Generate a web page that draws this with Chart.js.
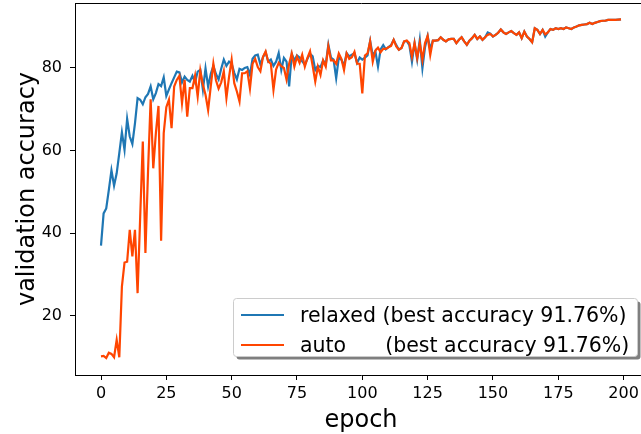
<!DOCTYPE html>
<html>
<head>
<meta charset="utf-8">
<script src="https://cdn.jsdelivr.net/npm/chart.js@4.4.0/dist/chart.umd.min.js"></script>
<style>
  html, body { margin: 0; padding: 0; background: #fff; overflow: hidden; }
  #wrap { width: 650px; height: 434px; }
</style>
</head>
<body>
<div id="wrap"><canvas id="chart" width="650" height="434"></canvas></div>
<script>
// validation accuracy per epoch
const relaxed = [
  37, 44.8, 46, 50.5, 55.2, 51.5, 54.5, 59.4, 64.4, 60.2,
  67.7, 63.4, 61.6, 66.6, 72.7, 72.3, 71.2, 72.9, 73.7, 75.5,
  72.4, 73.9, 76.1, 75.6, 77.7, 73.2, 74.8, 76.3, 77.7, 79.1,
  78.9, 76.5, 77.9, 77.1, 76.7, 78.1, 76.5, 79.1, 79.5, 74.7,
  79.9, 75.5, 78.5, 80.5, 78.5, 77.2, 79.8, 82, 80.5, 81.5,
  81, 78.8, 77.2, 79.8, 79.5, 80, 80.2, 78.3, 82.2, 83,
  83.2, 80.8, 82.6, 83.8, 81.5, 82, 80.5, 81.5, 83.6, 79.5,
  82.4, 81.5, 75.5, 83.4, 81.8, 83, 82.5, 81.6, 80.8, 82.2,
  83.4, 82.8, 79.5, 80.5, 80.2, 81.8, 80.8, 85.6, 82.5, 82,
  77.5, 82.5, 82, 80.5, 83.6, 82.8, 83.2, 83.5, 81.2, 82.5,
  82, 82.5, 83, 86.5, 83, 84, 80.3, 84.5, 85.5, 84.5,
  85, 85.5, 86.8, 85.5, 84.4, 84.8, 86.4, 86.5, 85.5, 81.5,
  86, 82, 86.8, 79.9, 85, 87.7, 84.5, 86.6, 86.6, 86.7,
  87.4, 86.8, 86.4, 86.9, 87, 87, 86, 86.8, 87.4, 86.4,
  85.6, 86.6, 87.2, 88, 87, 87.6, 86.8, 87.4, 88.6, 88.3,
  87.6, 88, 88.5, 89.3, 88.6, 88.2, 88.6, 88.9, 88.4, 88,
  88.6, 87.2, 88.8, 87.6, 87, 86.2, 89.6, 89.2, 88.2, 89.2,
  87.6, 88.6, 89.4, 89.2, 89.6, 89.4, 89.6, 89.4, 89.8, 89.6,
  89.4, 89.8, 90, 90.3, 90.4, 90.5, 90.6, 90.9, 90.6, 90.9,
  91.1, 91.3, 91.4, 91.4, 91.6, 91.6, 91.6, 91.6, 91.7, 91.76
];

const auto = [
  10.2, 10.3, 9.8, 11.1, 10.8, 10, 14.2, 10, 27.1, 32.9,
  33.1, 40.8, 34.4, 40.8, 25.5, 44, 62.2, 35.2, 55, 72.4,
  55.7, 64.2, 70.8, 38.2, 64.2, 70.5, 72.3, 65.4, 75.5, 77.1,
  78.1, 71.5, 77.1, 68.2, 75.1, 75.1, 78.1, 73.1, 79.4, 75.9,
  73.5, 69.8, 75.5, 81, 77, 75, 76.5, 79.2, 72.7, 77.8,
  82, 76.3, 74.3, 71.9, 78.7, 78.7, 79.2, 75, 81, 82.2,
  80.2, 79.2, 82.7, 84, 81.5, 81, 74.7, 79.6, 81.2, 80.4,
  80, 77.2, 81, 83.5, 80.3, 82.7, 81.2, 83.2, 80.3, 82.4,
  84, 80.5, 76.7, 80.3, 78.3, 81.8, 80.3, 85.2, 81.8, 81.8,
  81, 83.5, 82.2, 79.5, 83.5, 82.2, 82.6, 83.9, 81, 81,
  73.8, 83, 83.5, 86.4, 81.5, 84.2, 84.9, 83.8, 84.6, 84.6,
  85, 85.3, 86.8, 85.2, 84.4, 84.8, 86.4, 86.6, 86, 82.7,
  86, 82.4, 86, 81.9, 86, 87.7, 83.1, 86.6, 86.6, 86.7,
  87.4, 86.8, 86.4, 86.9, 87, 87, 86, 86.8, 87.4, 86.4,
  85.6, 86.6, 87.2, 88, 87, 87.6, 86.8, 87.4, 88, 88.2,
  87.6, 88, 88.5, 89.3, 88.6, 88.2, 88.6, 88.9, 88.4, 88,
  88.6, 87.2, 88.8, 87.6, 87, 86.2, 89.6, 89.2, 88.2, 89.2,
  88.1, 88.6, 89.4, 89.2, 89.6, 89.4, 89.6, 89.4, 89.8, 89.6,
  89.4, 89.8, 90, 90.3, 90.4, 90.5, 90.6, 90.9, 90.6, 90.9,
  91.1, 91.3, 91.4, 91.4, 91.6, 91.6, 91.6, 91.6, 91.7, 91.76
];

const seriesLabels = ["relaxed (best accuracy 91.76%)", "auto      (best accuracy 91.76%)"];
const xTicks = [0, 25, 50, 75, 100, 125, 150, 175, 200];
const yTicks = [20, 40, 60, 80];

const FONT = "'DejaVu Sans', sans-serif";

// top and right spines
const framePlugin = {
  id: "frame",
  afterDraw(chart) {
    const { ctx, chartArea: a } = chart;
    ctx.save();
    ctx.strokeStyle = "#000";
    ctx.lineWidth = 1;
    ctx.beginPath();
    ctx.moveTo(Math.round(a.left) + 0.5, Math.round(a.top) + 0.5);
    ctx.lineTo(Math.round(a.right) + 0.5, Math.round(a.top) + 0.5);
    ctx.lineTo(Math.round(a.right) + 0.5, Math.round(a.bottom) + 0.5);
    ctx.stroke();
    ctx.restore();
  }
};

function roundRect(ctx, x, y, w, h, r) {
  ctx.beginPath();
  ctx.moveTo(x + r, y);
  ctx.lineTo(x + w - r, y);
  ctx.arcTo(x + w, y, x + w, y + r, r);
  ctx.lineTo(x + w, y + h - r);
  ctx.arcTo(x + w, y + h, x + w - r, y + h, r);
  ctx.lineTo(x + r, y + h);
  ctx.arcTo(x, y + h, x, y + h - r, r);
  ctx.lineTo(x, y + r);
  ctx.arcTo(x, y, x + r, y, r);
  ctx.closePath();
}

// matplotlib-like legend with shadow, bottom right
const legendPlugin = {
  id: "mplLegend",
  afterDraw(chart) {
    const ctx = chart.ctx;
    const bx = 233.5, by = 298.5, bw = 404, bh = 58;
    ctx.save();
    ctx.fillStyle = "rgba(0,0,0,0.5)";
    roundRect(ctx, bx + 3, by + 3, bw, bh, 3);
    ctx.fill();
    ctx.fillStyle = "#fff";
    ctx.strokeStyle = "#cccccc";
    ctx.lineWidth = 1;
    roundRect(ctx, bx, by, bw, bh, 3);
    ctx.fill();
    ctx.stroke();
    ctx.font = "20.5px " + FONT;
    ctx.textBaseline = "middle";
    ctx.textAlign = "left";
    chart.data.datasets.forEach((ds, i) => {
      const y = 315 + i * 30;
      ctx.strokeStyle = ds.borderColor;
      ctx.lineWidth = 2;
      ctx.beginPath();
      ctx.moveTo(241, y);
      ctx.lineTo(284, y);
      ctx.stroke();
      ctx.fillStyle = "#000";
      ctx.fillText(ds.label, 300, y + 1.5);
    });
    ctx.restore();
  }
};

const tickStyle = { size: 16, family: FONT };

new Chart(document.getElementById("chart"), {
  type: "line",
  data: {
    datasets: [
      {
        label: seriesLabels[0],
        data: relaxed.map((v, i) => ({ x: i, y: v })),
        borderColor: "#1f77b4",
        borderWidth: 2.2,
        pointRadius: 0,
        order: 2
      },
      {
        label: seriesLabels[1],
        data: auto.map((v, i) => ({ x: i, y: v })),
        borderColor: "#ff4500",
        borderWidth: 2.2,
        pointRadius: 0,
        order: 1
      }
    ]
  },
  options: {
    responsive: false,
    animation: false,
    layout: { padding: { left: 0, top: 3, right: 3, bottom: 0 } },
    plugins: { legend: { display: false }, tooltip: { enabled: false } },
    scales: {
      x: {
        type: "linear",
        min: -9.95,
        max: 208.95,
        afterBuildTicks: s => { s.ticks = xTicks.map(v => ({ value: v })); },
        afterFit: s => { s.height = 59; s.paddingLeft = 0; s.paddingRight = 0; },
        ticks: { font: tickStyle, color: "#000", padding: 4, maxRotation: 0, autoSkip: false },
        grid: { drawOnChartArea: false, drawTicks: true, tickLength: 5, color: "#000" },
        border: { display: true, color: "#000", width: 1 },
        title: { display: true, text: "epoch", font: { size: 24, family: FONT }, color: "#000", padding: { top: 0, bottom: -1 } }
      },
      y: {
        min: 5.7,
        max: 95.7,
        afterBuildTicks: s => { s.ticks = yTicks.map(v => ({ value: v })); },
        afterFit: s => { s.width = 75; s.paddingTop = 0; s.paddingBottom = 0; },
        ticks: { font: tickStyle, color: "#000", padding: 8 },
        grid: { drawOnChartArea: false, drawTicks: true, tickLength: 5, color: "#000" },
        border: { display: true, color: "#000", width: 1 },
        title: { display: true, text: "validation accuracy", font: { size: 24, family: FONT }, color: "#000", padding: { top: 13, bottom: 0 } }
      }
    }
  },
  plugins: [framePlugin, legendPlugin]
});
</script>
</body>
</html>
